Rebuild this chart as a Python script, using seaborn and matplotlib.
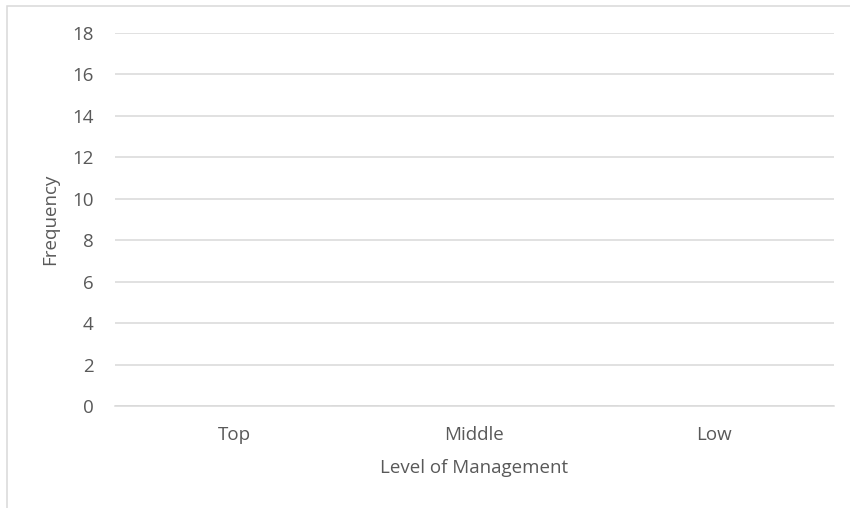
import matplotlib
matplotlib.use("Agg")
import matplotlib.pyplot as plt
import seaborn as sns
import pandas as pd
from matplotlib.patches import Rectangle

categories = ["Top", "Middle", "Low"]
frequency = [0, 0, 0]
y_ticks = [0, 2, 4, 6, 8, 10, 12, 14, 16, 18]

sns.set_theme(style="white")
plt.rcParams['font.family'] = ['Open Sans', 'DejaVu Sans']

df = pd.DataFrame({"Level": categories, "Frequency": frequency})

fig = plt.figure(figsize=(8.5, 5.08), dpi=100)
ax = fig.add_axes([115/850, 1 - 406/508, (834 - 115)/850, (406 - 33)/508])

sns.barplot(data=df, x="Level", y="Frequency", order=categories, color="#4472C4", ax=ax)

ax.set_ylim(0, 18)
ax.set_yticks(y_ticks)
ax.set_xlim(-0.5, 2.5)
ax.yaxis.grid(True, color="#d9d9d9", linewidth=1.1)
ax.set_axisbelow(True)
for s in ["top", "right", "left"]:
    ax.spines[s].set_visible(False)
ax.spines["bottom"].set_color("#d9d9d9")
ax.spines["bottom"].set_linewidth(1.1)

txt = "#595959"
fs = 13.5
ax.tick_params(axis="y", length=0, pad=15.5, labelsize=fs, labelcolor=txt)
ax.tick_params(axis="x", length=0, pad=14.5, labelsize=fs, labelcolor=txt)
ax.set_xlabel("Level of Management", fontsize=fs, color=txt)
ax.set_ylabel("Frequency", fontsize=fs, color=txt)
ax.xaxis.set_label_coords(0.5, -(459 - 406) / 373)
ax.yaxis.set_label_coords(-(115 - 59) / 719, 0.5)

fig.patches.append(Rectangle((6.5/850, -0.1), 1.2, 1 - 6.5/508 + 0.1, transform=fig.transFigure,
                             fill=False, edgecolor="#d9d9d9", linewidth=1.1))

fig.savefig("out.png", dpi=100)
